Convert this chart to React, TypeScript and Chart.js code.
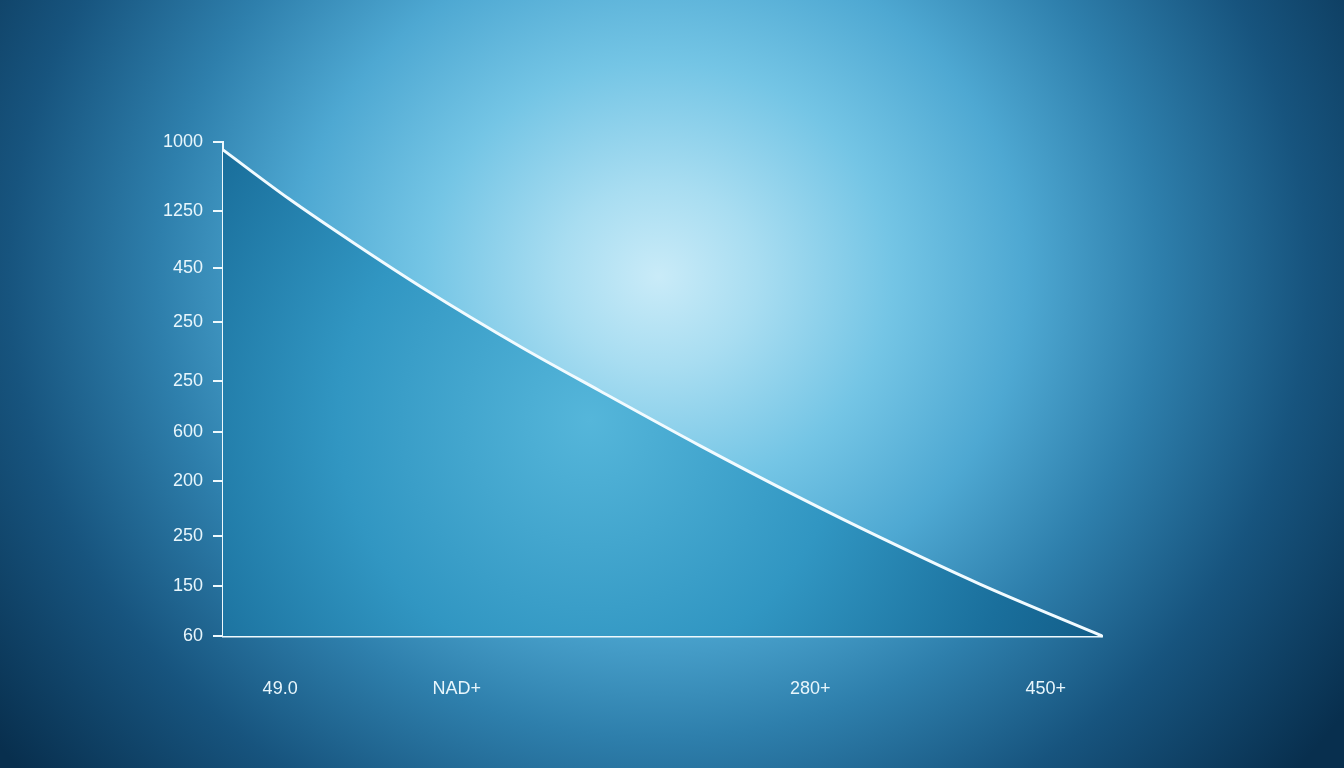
import React, { useEffect, useRef } from "react";
import { Chart, registerables } from "chart.js";

Chart.register(...registerables);

// Curve points (x: 0..100 along the axis, y: 0..100 of axis height)
const curveX = [0, 7.5, 15.0, 22.6, 34.0, 42.9, 54.3, 65.6, 74.7, 86.1, 100];
const curveY = [98.4, 88.5, 79.4, 70.6, 58.4, 49.6, 38.5, 28.0, 20.0, 10.5, 0];

// Y tick labels and where they sit on the axis
const yTickLabels = ["1000", "1250", "450", "250", "250", "600", "200", "250", "150", "60"];
const yTickValues = [100, 86.0, 74.5, 63.6, 51.6, 41.3, 31.4, 20.2, 10.1, 0];

// X tick labels and where they sit on the axis
const xTickLabels = ["49.0", "NAD+", "280+", "450+"];
const xTickValues = [6.5, 26.6, 66.8, 93.6];

const W = 1344;
const H = 768;

export default function App() {
  const ref = useRef<HTMLCanvasElement | null>(null);

  useEffect(() => {
    const canvas = ref.current;
    if (!canvas) return;
    const points = curveX.map((x, i) => ({ x, y: curveY[i] }));
    const font = { family: "'Liberation Sans', Arial, sans-serif", size: 18 };
    const textColor = "#e8f6fc";

    const chart = new Chart(canvas, {
      type: "scatter",
      data: {
        datasets: [
          {
            data: points,
            showLine: true,
            cubicInterpolationMode: "monotone",
            borderColor: "#f2fbff",
            borderWidth: 3,
            pointRadius: 0,
            clip: false as any,
            fill: "origin",
            backgroundColor: (c: any) => {
              const area = c.chart.chartArea;
              if (!area) return "rgba(30,120,170,0.8)";
              const g = c.chart.ctx.createRadialGradient(590, 420, 0, 590, 420, 560);
              g.addColorStop(0, "#55b6da");
              g.addColorStop(0.45, "#3196c2");
              g.addColorStop(0.8, "#1a6f9c");
              g.addColorStop(1, "#125d88");
              return g;
            },
          },
        ],
      },
      options: {
        responsive: false,
        animation: false,
        layout: { padding: { left: 0, right: W - 1102, top: 142, bottom: 0 } },
        plugins: { legend: { display: false }, tooltip: { enabled: false } },
        scales: {
          x: {
            type: "linear",
            min: 0,
            max: 100,
            afterBuildTicks: (s: any) => {
              s.ticks = xTickValues.map((v) => ({ value: v }));
            },
            afterFit: (s: any) => {
              s.height = H - 636;
            },
            grid: { display: false },
            border: { display: true, color: "#eef9fd", width: 2.5 },
            ticks: {
              padding: 34,
              color: textColor,
              font,
              maxRotation: 0,
              autoSkip: false,
              callback: (_v: any, i: number) => xTickLabels[i],
            },
          },
          y: {
            type: "linear",
            min: 0,
            max: 100,
            afterBuildTicks: (s: any) => {
              s.ticks = yTickValues.map((v) => ({ value: v }));
            },
            afterFit: (s: any) => {
              s.width = 223;
            },
            grid: {
              display: true,
              drawOnChartArea: false,
              drawTicks: true,
              tickLength: 10,
              color: "#eef9fd",
              lineWidth: 2,
            },
            border: { display: true, color: "#eef9fd", width: 2 },
            ticks: {
              padding: 10,
              color: textColor,
              font,
              autoSkip: false,
              callback: (_v: any, i: number) => yTickLabels[i],
            },
          },
        },
      },
    });
    return () => chart.destroy();
  }, []);

  return (
    <div
      style={{
        position: "fixed",
        left: 0,
        top: 0,
        width: W,
        height: H,
        background:
          "radial-gradient(ellipse 62% 100% at 49% 36%, #c9ebf8 0%, #a8ddf1 12%, #74c5e5 28%, #4ea8d2 44%, #2e7fac 60%, #17547e 78%, #082f4e 100%)",
      }}
    >
      <canvas ref={ref} width={W} height={H} style={{ display: "block", width: W, height: H }} />
    </div>
  );
}
